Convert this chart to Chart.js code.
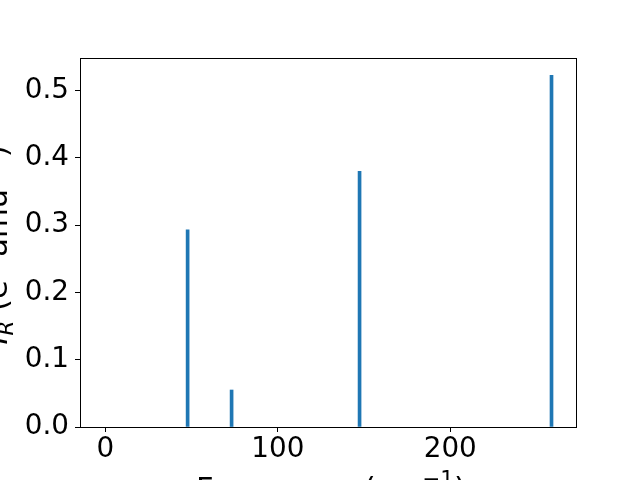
<!DOCTYPE html>
<html>
<head>
<meta charset="utf-8">
<script src="https://cdn.jsdelivr.net/npm/chart.js@4/dist/chart.umd.min.js"></script>
<style>
  html, body { margin: 0; padding: 0; background: #fff; overflow: hidden; width: 640px; height: 480px; }
  #wrap { position: absolute; left: -30px; top: 0; width: 670px; height: 540px; }
</style>
</head>
<body>
<div id="wrap"><canvas id="chart" width="670" height="540"></canvas></div>
<script>
// vibrational modes
const frequencies = [47.7, 73.2, 147.4, 258.7]
const intensities = [0.293, 0.055, 0.380, 0.523]

const xRange = [-14.7, 272.9]
const yRange = [0, 0.5486]
const xStep = 100
const yStep = 0.1

// axis labels, drawn piece by piece so sub/superscripts look like mathtext
const xTitleParts = [
  { text: 'Frequency (cm', italic: false, scale: 1,   rise: 0 },
  { text: '\u22121',       italic: false, scale: 0.7, rise: 0.42 },
  { text: ')',             italic: false, scale: 1,   rise: 0 },
]
const yTitleParts = [
  { text: 'I',    italic: true,  scale: 1,   rise: 0 },
  { text: 'R',    italic: true,  scale: 0.7, rise: -0.2 },
  { text: ' (e',  italic: false, scale: 1,   rise: 0 },
  { text: '2',    italic: false, scale: 0.7, rise: 0.42 },
  { text: ' amu', italic: false, scale: 1,   rise: 0 },
  { text: '\u22121', italic: false, scale: 0.7, rise: 0.42 },
  { text: ')',    italic: false, scale: 1,   rise: 0 },
]

const FONT = 'DejaVu Sans'
const TICK_SIZE = 27.8
const LABEL_SIZE = 30.6
const BLUE = '#1f77b4'

Chart.defaults.color = '#000'
Chart.defaults.font.family = FONT

// matplotlib-like box around the axes
const frame = {
  id: 'frame',
  afterDatasetsDraw(chart) {
    const { ctx, chartArea: a } = chart
    ctx.save()
    ctx.strokeStyle = '#000'
    ctx.lineWidth = 1
    ctx.strokeRect(a.left + 0.5, a.top + 0.5, a.right - a.left, a.bottom - a.top)
    ctx.restore()
  },
}

function drawParts(ctx, parts, cx, baseline, angle) {
  const font = p => `${p.italic ? 'italic ' : ''}${LABEL_SIZE * p.scale}px "${FONT}"`
  ctx.save()
  let total = 0
  parts.forEach(p => { ctx.font = font(p); total += ctx.measureText(p.text).width })
  ctx.translate(cx, baseline)
  ctx.rotate(angle)
  ctx.fillStyle = '#000'
  ctx.textBaseline = 'alphabetic'
  ctx.textAlign = 'left'
  let x = -total / 2
  parts.forEach(p => {
    ctx.font = font(p)
    ctx.fillText(p.text, x, -p.rise * LABEL_SIZE)
    x += ctx.measureText(p.text).width
  })
  ctx.restore()
}

const axisTitles = {
  id: 'axisTitles',
  afterDraw(chart) {
    const { ctx, chartArea: a } = chart
    drawParts(ctx, xTitleParts, (a.left + a.right) / 2 + 3, 499, 0)
    drawParts(ctx, yTitleParts, 36.5, (a.top + a.bottom) / 2 + 2.5, -Math.PI / 2)
  },
}

new Chart(document.getElementById('chart'), {
  type: 'bar',
  data: {
    datasets: [{
      data: frequencies.map((f, i) => ({ x: f, y: intensities[i] })),
      backgroundColor: BLUE,
      borderWidth: 0,
      barThickness: 3,
    }],
  },
  options: {
    responsive: false,
    animation: false,
    layout: { padding: { left: 0, top: 58, right: 64, bottom: 0 } },
    plugins: { legend: { display: false }, tooltip: { enabled: false } },
    scales: {
      x: {
        type: 'linear',
        offset: false,
        min: xRange[0],
        max: xRange[1],
        afterFit(s) { s.height = 113 },
        border: { display: false },
        grid: { offset: false, drawOnChartArea: false, drawTicks: true, tickLength: 5, tickColor: '#000', tickWidth: 1 },
        ticks: {
          stepSize: xStep, includeBounds: false, padding: 1, maxRotation: 0,
          font: { size: TICK_SIZE }, callback: v => v.toFixed(0),
        },
      },
      y: {
        min: yRange[0],
        max: yRange[1],
        afterFit(s) { s.width = 110 },
        border: { display: false },
        grid: { drawOnChartArea: false, drawTicks: true, tickLength: 5, tickColor: '#000', tickWidth: 1 },
        ticks: {
          stepSize: yStep, includeBounds: false, padding: 6,
          font: { size: TICK_SIZE }, callback: v => v.toFixed(1),
        },
      },
    },
  },
  plugins: [frame, axisTitles],
})
</script>
</body>
</html>
